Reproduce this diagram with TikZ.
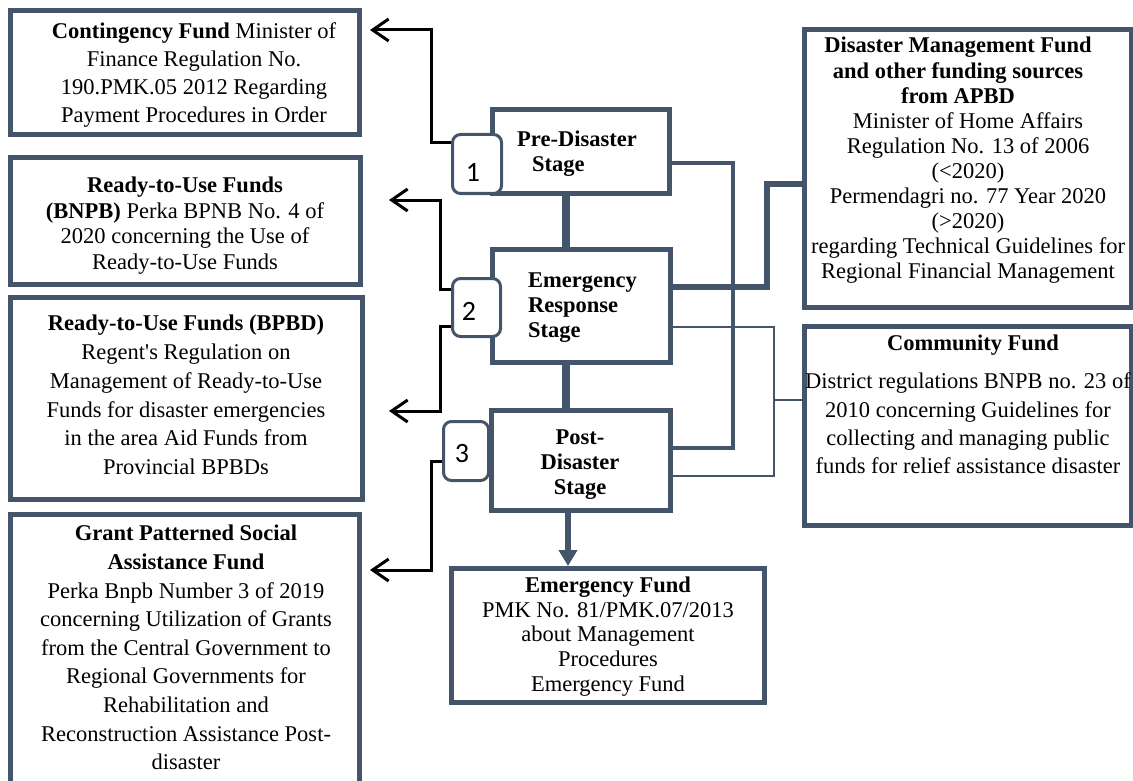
\documentclass[tikz,border=0pt]{standalone}
\usepackage{fontspec}
\setmainfont{Liberation Serif}
\newfontfamily\numfont{Carlito}
\usetikzlibrary{arrows.meta,backgrounds}
\definecolor{slate}{RGB}{68,84,106}
\begin{document}
\begin{tikzpicture}[x=1pt,y=-1pt,
  fbox/.style={draw=slate,line width=5pt,inner sep=0pt,outer sep=0pt,rectangle},
  nbox/.style={draw=slate,line width=3pt,fill=white,rounded corners=8pt,inner sep=0pt,outer sep=0pt,rectangle},
  txt/.style={align=center,inner sep=0pt,font=\fontsize{22.5pt}{#1pt}\selectfont},
  stxt/.style={align=#1,inner sep=0pt,font=\bfseries\fontsize{22.5pt}{25pt}\selectfont},
  num/.style={inner sep=0pt,font=\numfont\fontsize{28pt}{30pt}\selectfont},
  blk/.style={black,line width=3pt,-{Straight Barb[length=16pt,width=22pt]}},
  slink/.style={slate,line width=#1}
]
\useasboundingbox (0,0) rectangle (1133,781);
\clip (0,0) rectangle (1133,781);

% boxes
\node[fbox,minimum width=349pt,minimum height=124pt] (cont) at (185,72.5) {};
\node[fbox,minimum width=350pt,minimum height=127pt] (bnpb) at (185.5,221) {};
\node[fbox,minimum width=352pt,minimum height=202pt] (bpbd) at (186.5,398.5) {};
\node[fbox,minimum width=349pt,minimum height=291pt] (grant) at (185,660) {};
\node[fbox,minimum width=327pt,minimum height=278pt] (dm) at (968,168.5) {};
\node[fbox,minimum width=327pt,minimum height=199pt] (comm) at (968,426) {};
\node[fbox,minimum width=313pt,minimum height=134pt] (efund) at (608,635.5) {};
\node[fbox,minimum width=177pt,minimum height=84pt] (pre) at (581,151.5) {};
\node[fbox,minimum width=178pt,minimum height=113pt] (er) at (581.5,306) {};
\node[fbox,minimum width=179pt,minimum height=100pt] (post) at (581,460.5) {};

% number boxes
\node[nbox,minimum width=49pt,minimum height=59pt] (n1) at (477,164) {};
\node[nbox,minimum width=48pt,minimum height=58pt] (n2) at (476.5,307.5) {};
\node[nbox,minimum width=45pt,minimum height=59pt] (n3) at (466,451) {};
\node[num] (t1) at (473,172) {1};
\node[num] (t2) at (469,311) {2};
\node[num] (t3) at (462,454) {3};

% texts
\node[txt=28.3] (contT) at (194,75) {\textbf{Contingency Fund} Minister of\\Finance Regulation No.\\190.PMK.05 2012 Regarding\\Payment Procedures in Order};
\node[txt=25.7] (bnpbT) at (185,225.5) {\textbf{Ready-to-Use Funds}\\\textbf{(BNPB)} Perka BPNB No. 4 of\\2020 concerning the Use of\\Ready-to-Use Funds};
\node[txt=28.8] (bpbdT) at (186,395) {\textbf{Ready-to-Use Funds (BPBD)}\\Regent\textquotesingle s Regulation on\\Management of Ready-to-Use\\Funds for disaster emergencies\\in the area Aid Funds from\\Provincial BPBDs};
\node[txt=28.6] (grantT) at (186,647.5) {\textbf{Grant Patterned Social}\\\textbf{Assistance Fund}\\Perka Bnpb Number 3 of 2019\\concerning Utilization of Grants\\from the Central Government to\\Regional Governments for\\Rehabilitation and\\Reconstruction Assistance Post-\\disaster};
\node[txt=25.5] (dmT1) at (958,70.5) {\textbf{Disaster Management Fund}\\\textbf{and other funding sources}\\\textbf{from APBD}};
\node[txt=25] (dmT2) at (968,198) {Minister of Home Affairs\\Regulation No. 13 of 2006\\(<2020)\\Permendagri no. 77 Year 2020\\(>2020)\\regarding Technical Guidelines for\\Regional Financial Management};
\node[txt=25] (commT1) at (973,345) {\textbf{Community Fund}};
\node[txt=28.3] (commT2) at (968,423.5) {District regulations BNPB no. 23 of\\2010 concerning Guidelines for\\collecting and managing public\\funds for relief assistance disaster};
\node[txt=24.75] (efT) at (608,636.5) {\textbf{Emergency Fund}\\PMK No. 81/PMK.07/2013\\about Management\\Procedures\\Emergency Fund};
\node[stxt=left,anchor=west] (preT) at (517,153.5) {Pre-Disaster\\\hspace*{15pt}Stage};
\node[stxt=left,anchor=west] (erT) at (528,308) {Emergency\\Response\\Stage};
\node[stxt=center] (postT) at (580,465) {Post-\\Disaster\\Stage};

% connection points
\coordinate (j1) at (733,0);
\coordinate (j2) at (767,0);
\coordinate (j3) at (774,0);
\coordinate (v1) at (431,0);
\coordinate (v2) at (440,0);
\coordinate (preR) at ([yshift=-11.5pt]pre.east);
\coordinate (postR1) at ([yshift=12.5pt]post.east);
\coordinate (erR1) at ([yshift=19pt]er.east);
\coordinate (dmL) at ([yshift=-15.5pt]dm.west);
\coordinate (erR2) at ([yshift=-21pt]er.east);
\coordinate (postR2) at ([yshift=-15.5pt]post.east);
\coordinate (commL) at ([yshift=26pt]comm.west);
\coordinate (n1L) at ([yshift=21pt]n1.west);
\coordinate (contR) at ([xshift=10.5pt,yshift=42.5pt]cont.east);
\coordinate (n2La) at ([yshift=18.5pt]n2.west);
\coordinate (n2Lb) at ([yshift=-18.5pt]n2.west);
\coordinate (bnpbR) at ([xshift=28.5pt,yshift=21pt]bnpb.east);
\coordinate (bpbdR) at ([xshift=26.5pt,yshift=-12.5pt]bpbd.east);
\coordinate (n3L) at ([yshift=-10pt]n3.west);
\coordinate (grantR) at ([xshift=10.5pt,yshift=90pt]grant.east);

\begin{scope}[on background layer]
\draw[slink=8pt] ([xshift=-15pt]pre.south) -- ([xshift=-15.5pt]er.north);
\draw[slink=8pt] ([xshift=-15.5pt]er.south) -- ([xshift=-15pt]post.north);
\draw[slink=6pt,-{Triangle[length=16pt,width=18pt]}] ([xshift=-13pt]post.south) -- ([xshift=-40pt,yshift=2.5pt]efund.north);
\draw[slink=4.5pt] (preR) -| (j1 |- postR1) -- (postR1);
\draw[slink=5.5pt] (erR1) -| (j2 |- dmL) -- (dmL);
\draw[slink=1.5pt] (erR2) -| (j3 |- postR2) -- (postR2);
\draw[slink=1.5pt] (j3 |- commL) -- (commL);
\draw[blk] (n1L) -| (v1 |- contR) -- (contR);
\draw[blk] (n2La) -| (v2 |- bnpbR) -- (bnpbR);
\draw[blk] (n2Lb) -| (v2 |- bpbdR) -- (bpbdR);
\draw[blk] (n3L) -| (v1 |- grantR) -- (grantR);
\end{scope}
\end{tikzpicture}
\end{document}
